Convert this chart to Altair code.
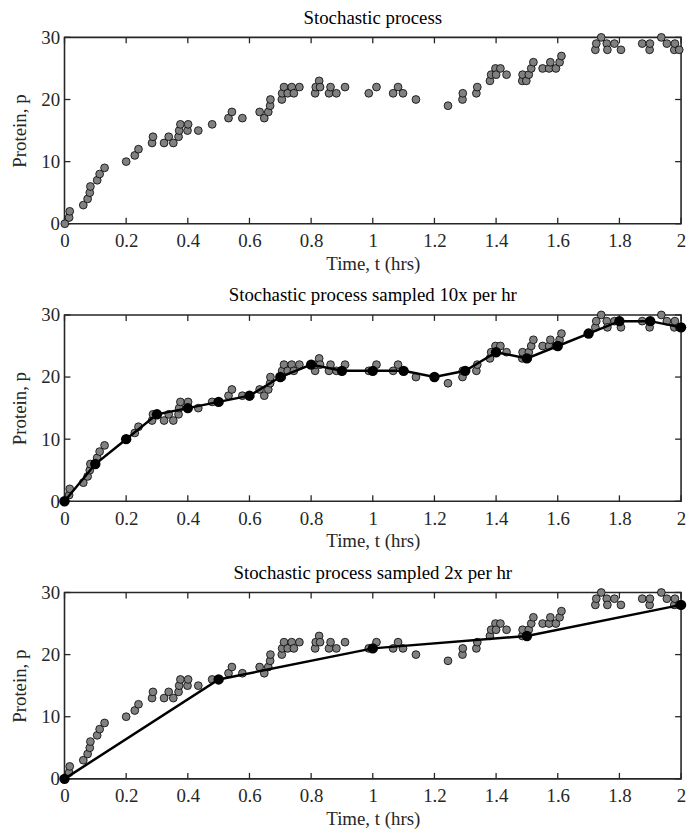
import altair as alt
import pandas as pd

# Stochastic event times (hrs) and protein counts
t_events = [0.001, 0.015, 0.017, 0.061, 0.075, 0.082, 0.084, 0.106, 0.114, 0.130,
            0.200, 0.228, 0.240, 0.284, 0.287, 0.323, 0.338, 0.353, 0.370, 0.372,
            0.376, 0.399, 0.401, 0.434, 0.479, 0.532, 0.543, 0.577, 0.633, 0.648,
            0.661, 0.667, 0.668, 0.705, 0.706, 0.712, 0.724, 0.737, 0.744, 0.762,
            0.813, 0.815, 0.826, 0.829, 0.858, 0.863, 0.882, 0.910, 0.987, 1.012,
            1.066, 1.082, 1.098, 1.140, 1.244, 1.291, 1.292, 1.336, 1.339, 1.380,
            1.384, 1.398, 1.400, 1.414, 1.434, 1.485, 1.486, 1.498, 1.506, 1.514,
            1.521, 1.551, 1.572, 1.576, 1.594, 1.606, 1.612, 1.722, 1.725, 1.741,
            1.759, 1.761, 1.784, 1.805, 1.874, 1.898, 1.899, 1.936, 1.954, 1.978,
            1.980, 1.994]
p_events = [0, 1, 2, 3, 4, 5, 6, 7, 8, 9,
            10, 11, 12, 13, 14, 13, 14, 13, 14, 15,
            16, 15, 16, 15, 16, 17, 18, 17, 18, 17,
            18, 19, 20, 20, 21, 22, 21, 22, 21, 22,
            21, 22, 23, 22, 21, 22, 21, 22, 21, 22,
            21, 22, 21, 20, 19, 20, 21, 21, 22, 23,
            24, 25, 24, 25, 24, 23, 24, 23, 24, 25,
            26, 25, 25, 26, 25, 26, 27, 28, 29, 30,
            29, 28, 29, 28, 29, 28, 29, 30, 29, 28,
            29, 28]

t_s10 = [0.0, 0.1, 0.2, 0.3, 0.4, 0.5, 0.6, 0.7, 0.8, 0.9, 1.0,
         1.1, 1.2, 1.3, 1.4, 1.5, 1.6, 1.7, 1.8, 1.9, 2.0]
p_s10 = [0, 6, 10, 14, 15, 16, 17, 20, 22, 21, 21,
         21, 20, 21, 24, 23, 25, 27, 29, 29, 28]

t_s2 = [0.0, 0.5, 1.0, 1.5, 2.0]
p_s2 = [0, 16, 21, 23, 28]

x_ticks = [0, 0.2, 0.4, 0.6, 0.8, 1, 1.2, 1.4, 1.6, 1.8, 2]
y_ticks = [0, 10, 20, 30]

titles = ["Stochastic process",
          "Stochastic process sampled 10x per hr",
          "Stochastic process sampled 2x per hr"]

W, H = 622, 188
FONT = "Liberation Serif"
FS = 19
INK = "#262626"

events = pd.DataFrame({"t": t_events, "p": p_events})
xt = pd.DataFrame({"t": x_ticks})
yt = pd.DataFrame({"p": y_ticks})

xs = alt.Scale(domain=[0, 2], nice=False, zero=False)
ys = alt.Scale(domain=[0, 30], nice=False, zero=False)

XENC = alt.X("t:Q", scale=xs, title="Time, t (hrs)",
             axis=alt.Axis(values=x_ticks, format="~g", ticks=False, domain=False,
                           grid=False, labelPadding=8, titlePadding=4,
                           labelFlush=False, labelOverlap=False,
                           labelFont=FONT, labelFontSize=FS, labelColor=INK,
                           titleFont=FONT, titleFontSize=FS, titleFontWeight="normal",
                           titleColor=INK))
YENC = alt.Y("p:Q", scale=ys, title="Protein, p",
             axis=alt.Axis(values=y_ticks, ticks=False, domain=False, grid=False,
                           labelPadding=5, titlePadding=11, labelFlush=False,
                           labelFont=FONT, labelFontSize=FS, labelColor=INK,
                           titleFont=FONT, titleFontSize=FS, titleFontWeight="normal",
                           titleColor=INK))


def panel(title, samp_t=None, samp_p=None):
    base_pts = alt.Chart(events).mark_circle(
        size=62, color="#808080", stroke="black", strokeWidth=0.8, opacity=1
    ).encode(x=XENC, y=YENC)
    tb = alt.Chart(xt).mark_rule(color=INK, strokeWidth=1.3).encode(
        x=XENC, y=alt.value(H), y2=alt.value(H - 6))
    tt = alt.Chart(xt).mark_rule(color=INK, strokeWidth=1.3).encode(
        x=XENC, y=alt.value(0), y2=alt.value(6))
    tl = alt.Chart(yt).mark_rule(color=INK, strokeWidth=1.3).encode(
        y=YENC, x=alt.value(0), x2=alt.value(6))
    tr = alt.Chart(yt).mark_rule(color=INK, strokeWidth=1.3).encode(
        y=YENC, x=alt.value(W), x2=alt.value(W - 6))
    layers = [tb, tt, tl, tr, base_pts]
    if samp_t is not None:
        sd = pd.DataFrame({"t": samp_t, "p": samp_p})
        line = alt.Chart(sd).mark_line(color="black", strokeWidth=2.5).encode(
            x=XENC, y=YENC)
        dots = alt.Chart(sd).mark_circle(size=110, color="black", opacity=1).encode(
            x=XENC, y=YENC)
        layers += [line, dots]
    return alt.layer(*layers).properties(
        width=W, height=H,
        view=alt.ViewBackground(stroke=INK, strokeWidth=1.6),
        title=alt.TitleParams(title, font=FONT, fontSize=FS, fontWeight="normal",
                              color="black", offset=1, frame="group"),
    )


chart = alt.vconcat(
    panel(titles[0]),
    panel(titles[1], t_s10, p_s10),
    panel(titles[2], t_s2, p_s2),
    spacing=11,
).properties(
    padding={"left": 2, "top": -4, "right": 0, "bottom": 0},
    background="white",
).configure_view(
    stroke=INK, strokeWidth=1.6
)

chart.save("out.html", embed_options={"renderer": "svg", "actions": False})
